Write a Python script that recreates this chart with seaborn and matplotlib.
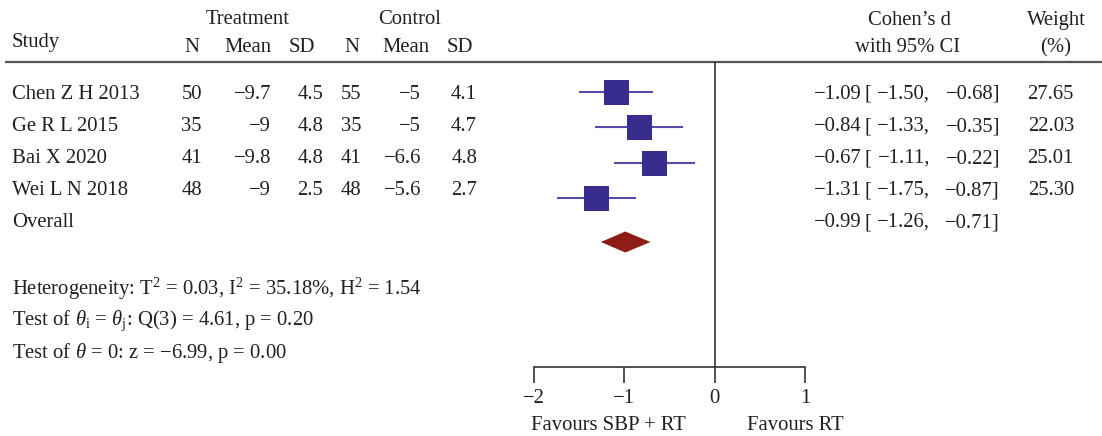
import matplotlib
matplotlib.use("Agg")
import matplotlib.pyplot as plt
import seaborn as sns
import pandas as pd

# ---------------- data ----------------
studies = ["Chen Z H 2013", "Ge R L 2015", "Bai X 2020", "Wei L N 2018"]
treat_n = [50, 35, 41, 48]
treat_mean = [-9.7, -9, -9.8, -9]
treat_sd = [4.5, 4.8, 4.8, 2.5]
ctrl_n = [55, 35, 41, 48]
ctrl_mean = [-5, -5, -6.6, -5.6]
ctrl_sd = [4.1, 4.7, 4.8, 2.7]
cohen_d = [-1.09, -0.84, -0.67, -1.31]
ci_low = [-1.50, -1.33, -1.11, -1.75]
ci_high = [-0.68, -0.35, -0.22, -0.87]
weights = [27.65, 22.03, 25.01, 25.30]
overall_d, overall_low, overall_high = -0.99, -1.26, -0.71
x_ticks = [-2, -1, 0, 1]
left_label = "Favours SBP + RT"
right_label = "Favours RT"
stats_lines = [
    r"Heterogeneity: T$^2$ = 0.03, I$^2$ = 35.18%, H$^2$ = 1.54",
    r"Test of $\theta_\mathrm{i}$ = $\theta_\mathrm{j}$: Q(3) = 4.61, p = 0.20",
    r"Test of $\theta$ = 0: z = −6.99, p = 0.00",
]

df = pd.DataFrame({"study": studies, "d": cohen_d, "lo": ci_low, "hi": ci_high,
                   "w": weights, "row": list(range(len(studies)))})

# ---------------- style ----------------
sns.set_style("white")
plt.rcParams["font.family"] = ["Liberation Serif", "DejaVu Serif"]
plt.rcParams["mathtext.fontset"] = "custom"
plt.rcParams["mathtext.rm"] = "Liberation Serif"
plt.rcParams["mathtext.it"] = "Liberation Serif:italic"
plt.rcParams["mathtext.bf"] = "Liberation Serif:bold"

TXT = "#231f20"
FS = 14.85
W, H = 1102, 436


def fmt(v):
    return f"{v:g}".replace("-", "\u2212")


def f2(v):
    return f"{v:.2f}".replace("-", "\u2212")


fig = plt.figure(figsize=(W / 100, H / 100), dpi=100)

# text layer in pixel coordinates
ax_t = fig.add_axes([0, 0, 1, 1])
ax_t.set_xlim(0, W)
ax_t.set_ylim(H, 0)
ax_t.axis("off")

# forest axes: x -2..1 from px 534 to 805, y from px 62 to 367
row0, row_step = 92, 35.3
top_px, bot_px = 62, 367
ax_p = fig.add_axes([534 / W, (H - bot_px) / H, (805 - 534) / W, (bot_px - top_px) / H])
ax_p.patch.set_alpha(0)
ax_p.set_xlim(-2, 1)
ax_p.set_ylim((bot_px - row0) / row_step, (top_px - row0) / row_step)


def T(x, y, s, ha="left", **kw):
    ax_t.text(x, y, s, ha=ha, va="center_baseline", fontsize=FS, color=TXT, **kw)


# header
T(12, 40, "Study")
T(248, 17, "Treatment", ha="center")
T(410, 17, "Control", ha="center")
for x, s in [(192, "N"), (248, "Mean"), (302, "SD"), (352, "N"), (406, "Mean"), (460, "SD")]:
    T(x, 45, s, ha="center")
T(909, 18, "Cohen\u2019s d", ha="center")
T(908, 45, "with 95% CI", ha="center")
T(1056, 18, "Weight", ha="center")
T(1056, 45, "(%)", ha="center")
ax_t.plot([5, W], [62, 62], color="#555555", lw=1.6, solid_capstyle="butt")

# table rows
text_row0, text_step = 92, 32
for i in range(len(studies)):
    y = text_row0 + text_step * i
    T(12, y, studies[i])
    T(202, y, fmt(treat_n[i]), ha="right")
    T(271, y, fmt(treat_mean[i]), ha="right")
    T(323, y, fmt(treat_sd[i]), ha="right")
    T(361, y, fmt(ctrl_n[i]), ha="right")
    T(421, y, fmt(ctrl_mean[i]), ha="right")
    T(477, y, fmt(ctrl_sd[i]), ha="right")
    T(862, y, f2(cohen_d[i]), ha="right")
    T(864, y, "[")
    T(930, y, f2(ci_low[i]) + ",", ha="right")
    T(1000, y, f2(ci_high[i]) + "]", ha="right")
    T(1074, y, f"{weights[i]:.2f}", ha="right")

y = text_row0 + text_step * len(studies)
T(12, y, "Overall")
T(862, y, f2(overall_d), ha="right")
T(864, y, "[")
T(930, y, f2(overall_low) + ",", ha="right")
T(1000, y, f2(overall_high) + "]", ha="right")

for j, s in enumerate(stats_lines):
    T(12, 285 + 32 * j, s)

# forest plot marks
ax_p.axvline(0, color="#333333", lw=1.2, zorder=1)
ax_p.hlines(df["row"], df["lo"], df["hi"], color="#544ea8", lw=1.5, zorder=2)
sns.scatterplot(data=df, x="d", y="row", marker="s", s=18 ** 2, color="#382c8c",
                linewidth=0, ax=ax_p, zorder=3, legend=False)
dr = (242 - row0) / row_step
dh = 10.5 / row_step
ax_p.fill([overall_low, overall_d, overall_high, overall_d],
          [dr, dr - dh, dr, dr + dh], color="#8f1d17", lw=0, zorder=3)

# axis
for side in ["top", "left", "right"]:
    ax_p.spines[side].set_visible(False)
ax_p.spines["bottom"].set_color("#333333")
ax_p.spines["bottom"].set_linewidth(1.2)
ax_p.set_yticks([])
ax_p.set_xticks(x_ticks)
ax_p.set_xticklabels([fmt(v) for v in x_ticks])
ax_p.tick_params(axis="x", direction="out", length=11.5, width=1.2, color="#333333",
                 pad=4, labelsize=FS, labelcolor=TXT, bottom=True)
ax_p.set_xlabel("")
ax_p.set_ylabel("")

T(608, 423, left_label, ha="center")
T(795, 423, right_label, ha="center")

fig.savefig("out.png", dpi=100)
